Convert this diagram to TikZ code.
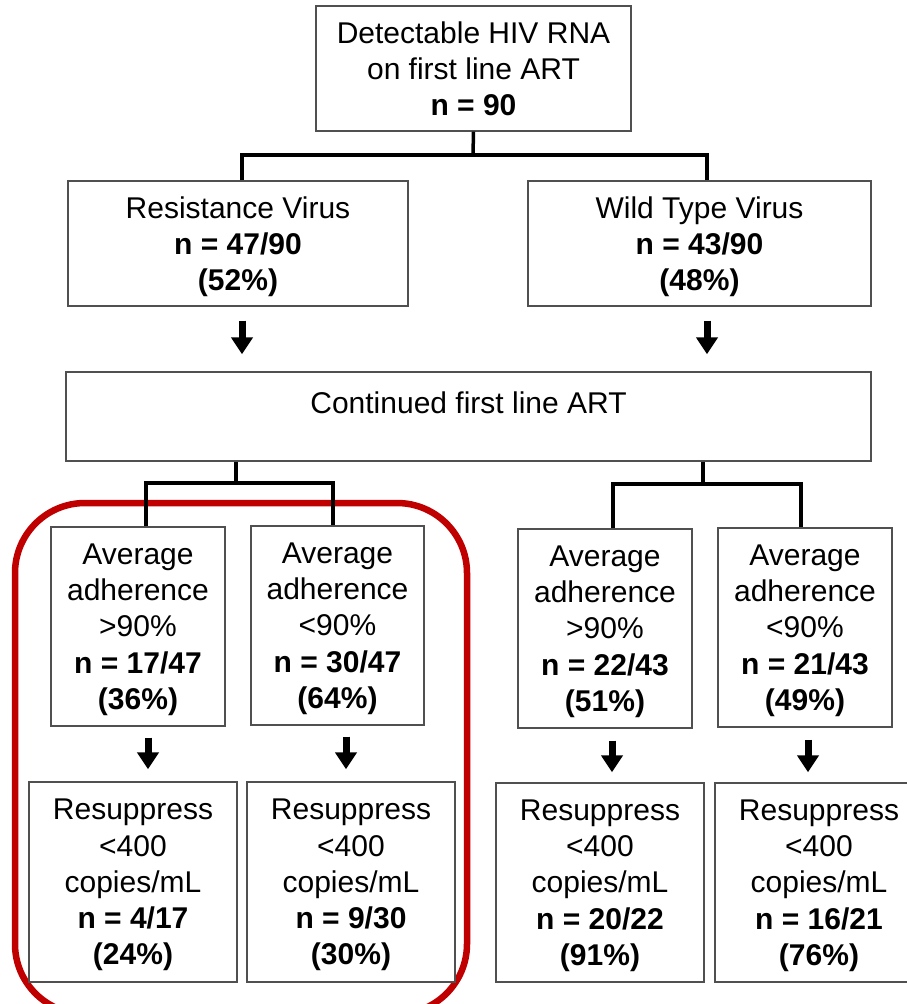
\documentclass[tikz,border=0pt]{standalone}
\usepackage{fontspec}
\setmainfont{Liberation Sans}
\usetikzlibrary{arrows.meta,calc}
\definecolor{boxgray}{HTML}{505050}
\definecolor{hred}{HTML}{C00000}
\begin{document}
\begin{tikzpicture}[x=1pt,y=-1pt,
  box/.style={draw=boxgray, line width=1.4pt, fill=white, align=center, inner sep=0pt,
              font=\fontsize{30}{36.3}\selectfont, text=black, text depth=-1pt},
  lbl/.style={inner sep=0pt, font=\fontsize{30}{36}\selectfont, text=black},
  conn/.style={line width=3.5pt, black},
  blk/.style={line width=7pt, black, -{Triangle[width=21pt,length=17pt]}},
  hl/.style={line width=6.5pt, draw=hred, rounded corners=70pt}
]
\useasboundingbox (0,0) rectangle (907,1004);
\clip (0,0) rectangle (907,1004);
\fill[white] (0,0) rectangle (907,1004);

% highlight frame
\draw[hl] (15,503) rectangle (467,1014);

% boxes
\node[box, minimum width=315pt, minimum height=125pt, text depth=-2pt] (top) at (473.5,68.5)
  {Detectable HIV RNA\\on first line ART\\\textbf{n = 90}};
\node[box, minimum width=340pt, minimum height=125pt] (res) at (238,243.5)
  {Resistance Virus\\\textbf{n = 47/90}\\\textbf{(52\%)}};
\node[box, minimum width=343pt, minimum height=125pt] (wild) at (699.5,243.5)
  {Wild Type Virus\\\textbf{n = 43/90}\\\textbf{(48\%)}};
\node[box, minimum width=805pt, minimum height=89pt] (cont) at (468.5,416.5) {};
\node[lbl] (conttxt) at (468.5,403) {Continued first line ART};

\node[box, minimum width=174pt, minimum height=199pt] (a1) at (138,626.5)
  {Average\\adherence\\>90\%\\\textbf{n = 17/47}\\\textbf{(36\%)}};
\node[box, minimum width=173pt, minimum height=199pt] (a2) at (337.5,625.5)
  {Average\\adherence\\<90\%\\\textbf{n = 30/47}\\\textbf{(64\%)}};
\node[box, minimum width=174pt, minimum height=199pt] (a3) at (605,628.5)
  {Average\\adherence\\>90\%\\\textbf{n = 22/43}\\\textbf{(51\%)}};
\node[box, minimum width=174pt, minimum height=199pt] (a4) at (805,627.5)
  {Average\\adherence\\<90\%\\\textbf{n = 21/43}\\\textbf{(49\%)}};

\node[box, minimum width=208pt, minimum height=200pt] (r1) at (133,882)
  {Resuppress\\<400\\copies/mL\\\textbf{n = 4/17}\\\textbf{(24\%)}};
\node[box, minimum width=208pt, minimum height=200pt] (r2) at (351,882)
  {Resuppress\\<400\\copies/mL\\\textbf{n = 9/30}\\\textbf{(30\%)}};
\node[box, minimum width=208pt, minimum height=199pt] (r3) at (600,882.5)
  {Resuppress\\<400\\copies/mL\\\textbf{n = 20/22}\\\textbf{(91\%)}};
\node[box, minimum width=208pt, minimum height=199pt] (r4) at (819,882.5)
  {Resuppress\\<400\\copies/mL\\\textbf{n = 16/21}\\\textbf{(76\%)}};

% brackets
\coordinate (j0) at (473,155);
\draw[conn] (top.south) -- (j0);
\draw[conn] ([xshift=4pt]res.north) -- ([xshift=4pt]res.north |- j0) -- ([xshift=7.5pt]wild.north |- j0) -- ([xshift=7.5pt]wild.north);

\coordinate (j1) at (236,483);
\draw[conn] (cont.south -| j1) -- (j1);
\draw[conn] ([xshift=8pt]a1.north) -- ([xshift=8pt]a1.north |- j1) -- ([xshift=-4.5pt]a2.north |- j1) -- ([xshift=-4.5pt]a2.north);

\coordinate (j2) at (703,484);
\draw[conn] (cont.south -| j2) -- (j2);
\draw[conn] ([xshift=8pt]a3.north) -- ([xshift=8pt]a3.north |- j2) -- ([xshift=-4pt]a4.north |- j2) -- ([xshift=-4pt]a4.north);

% block arrows
\draw[blk] ([xshift=4pt,yshift=-14pt]res.south) -- ([xshift=4pt,yshift=17pt]res.south |- cont.north);
\draw[blk] ([xshift=7.5pt,yshift=-14pt]wild.south) -- ([xshift=7.5pt,yshift=17pt]wild.south |- cont.north);
\draw[blk] ([xshift=10pt,yshift=-11pt]a1.south) -- ([xshift=10pt,yshift=12pt]a1.south |- r1.north);
\draw[blk] ([xshift=8.5pt,yshift=-11pt]a2.south) -- ([xshift=8.5pt,yshift=12pt]a2.south |- r2.north);
\draw[blk] ([xshift=7pt,yshift=-12pt]a3.south) -- ([xshift=7pt,yshift=10pt]a3.south |- r3.north);
\draw[blk] ([xshift=3pt,yshift=-12pt]a4.south) -- ([xshift=3pt,yshift=10pt]a4.south |- r4.north);
\end{tikzpicture}
\end{document}
